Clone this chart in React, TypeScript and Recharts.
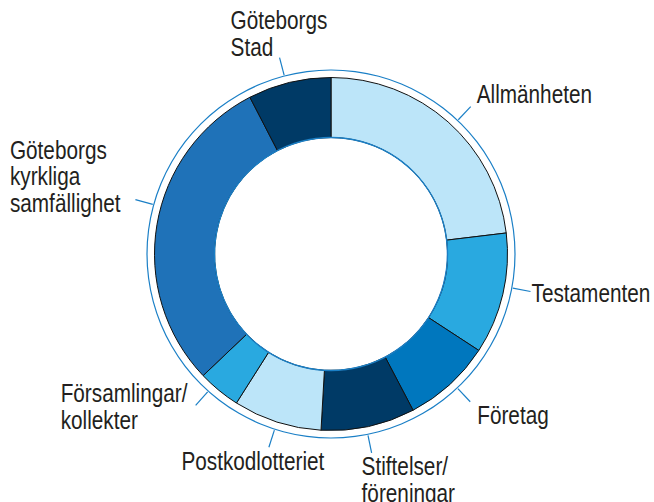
import React from 'react';
import { PieChart, Pie, Cell } from 'recharts';

// clockwise from 12 o'clock
const categories = [
  'Allmänheten',
  'Testamenten',
  'Företag',
  'Stiftelser/\nföreningar',
  'Postkodlotteriet',
  'Församlingar/\nkollekter',
  'Göteborgs\nkyrkliga\nsamfällighet',
  'Göteborgs\nStad',
];
const shares = [23.1, 11.1, 8.1, 8.6, 8.1, 3.9, 29.5, 7.6];
const colors = ['#bce5f9', '#29a9e0', '#0077be', '#003a66', '#bce5f9', '#29a9e0', '#1f72b8', '#003a66'];

// label placement relative to the end of each leader line
const labelLayout = [
  { shift: -1.9, dx: 6, dy: -3.5, anchor: 'start' },
  { shift: 2.5, dx: 1, dy: 10.5, anchor: 'start' },
  { shift: 1, dx: 7, dy: 22, anchor: 'start' },
  { shift: -0.7, dx: -10, dy: 22.5, anchor: 'start' },
  { shift: 0, dx: -16, dy: 22.5, anchor: 'middle' },
  { shift: -2.4, dx: -135, dy: -3, anchor: 'start' },
  { shift: -6, dx: -125.5, dy: -41, anchor: 'start' },
  { shift: 1, dx: -49, dy: -28.5, anchor: 'start' },
];

const data = categories.map((name, i) => ({ name, value: shares[i] }));
const ring = [{ name: 'ring', value: 1 }];

const BLUE = '#1a7fc6';
const RAD = Math.PI / 180;
const LINE_H = 26.7;

const renderLabel = (props: any) => {
  const { cx, cy, midAngle, index } = props;
  const lay = labelLayout[index];
  const a = (midAngle + lay.shift) * RAD;
  const x1 = cx + 185 * Math.cos(a);
  const y1 = cy - 185 * Math.sin(a);
  const x2 = cx + 203 * Math.cos(a);
  const y2 = cy - 203 * Math.sin(a);
  const lines = categories[index].split('\n');
  return (
    <g key={'lbl' + index}>
      <line x1={x1} y1={y1} x2={x2} y2={y2} stroke={BLUE} strokeWidth={1.2} />
      {/* condensed look: horizontally squeezed sans */}
      <text
        transform={`translate(${x2 + lay.dx},${y2 + lay.dy}) scale(0.83,1)`}
        x={0}
        y={0}
        textAnchor={lay.anchor}
        fill="#231f20"
        fontSize={25}
        fontFamily="'Liberation Sans', Arial, sans-serif"
      >
        {lines.map((t, j) => (
          <tspan key={j} x={0} dy={j === 0 ? 0 : LINE_H}>
            {t}
          </tspan>
        ))}
      </text>
    </g>
  );
};

export default function App() {
  return (
    <div style={{ position: 'absolute', left: 0, top: 0 }}>
      <PieChart width={654} height={502} margin={{ top: 0, right: 0, bottom: 0, left: 0 }}>
        <Pie
          data={data}
          dataKey="value"
          cx={331}
          cy={254}
          innerRadius={116.5}
          outerRadius={176.5}
          startAngle={90}
          endAngle={-270}
          stroke="#111"
          strokeWidth={1}
          label={renderLabel}
          labelLine={false}
          isAnimationActive={false}
        >
          {data.map((d, i) => (
            <Cell key={d.name} fill={colors[i]} />
          ))}
        </Pie>
        <Pie
          data={ring}
          dataKey="value"
          cx={331}
          cy={254}
          innerRadius={115.8}
          outerRadius={117.2}
          startAngle={90}
          endAngle={-270}
          fill={BLUE}
          stroke="none"
          isAnimationActive={false}
        />
        <Pie
          data={ring}
          dataKey="value"
          cx={331}
          cy={254}
          innerRadius={183.4}
          outerRadius={184.6}
          startAngle={90}
          endAngle={-270}
          fill={BLUE}
          stroke="none"
          isAnimationActive={false}
        />
      </PieChart>
    </div>
  );
}
